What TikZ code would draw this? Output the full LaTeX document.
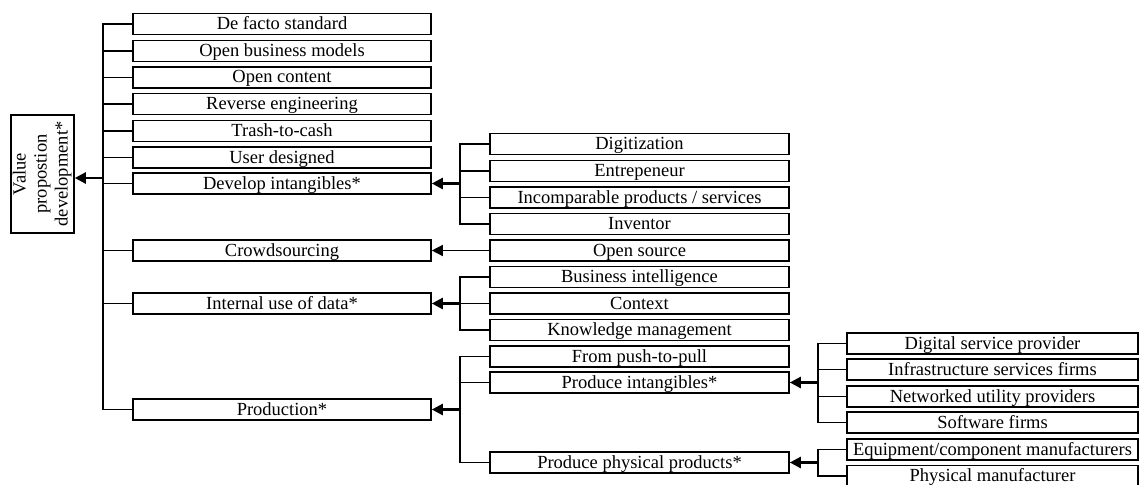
\documentclass[tikz,border=0pt]{standalone}
\usepackage{fontspec}
\usepackage{graphicx}
\setmainfont{Liberation Serif}
\usetikzlibrary{arrows.meta}
\tikzset{
  box/.style={draw, line width=1.6pt, inner sep=0pt, text height=15pt, text depth=4pt,
    minimum height=21pt, font=\fontsize{18.5}{21}\selectfont},
  lone/.style={box, minimum width=298pt},
  ltwo/.style={box, minimum width=299pt},
  lthree/.style={box, minimum width=291pt},
  conn/.style={line width=1.4pt, line cap=rect},
  arr/.style={line width=2.4pt, -{Triangle[length=11pt,width=11pt]}},
}
\begin{document}
\begin{tikzpicture}[x=1pt,y=-1pt]
\useasboundingbox (0,0) rectangle (1139,484);

% root
\node[draw, line width=1.6pt, inner sep=0pt, minimum width=63pt, minimum height=118pt,
  font=\fontsize{18.5}{21}\selectfont] (vp) at (42.5,174)
  {\rotatebox{90}{\begin{tabular}{@{}c@{}}Value\\propostion\\development*\end{tabular}}};

% first level
\node[lone] (dfs) at (282,24) {De facto standard};
\node[lone] (obm) at (282,51) {Open business models};
\node[lone] (ocn) at (282,77.5) {Open content};
\node[lone] (rev) at (282,104) {Reverse engineering};
\node[lone] (ttc) at (282,131) {Trash-to-cash};
\node[lone] (usd) at (282,157.5) {User designed};
\node[lone] (dvi) at (282,183.5) {Develop intangibles*};
\node[lone] (crs) at (282,250.5) {Crowdsourcing};
\node[lone] (iud) at (282,303.5) {Internal use of data*};
\node[lone] (prd) at (282,409.5) {Production*};

% second level
\node[ltwo] (dig) at (639.5,144) {Digitization};
\node[ltwo] (ent) at (639.5,171) {Entrepeneur};
\node[ltwo] (inc) at (639.5,197.5) {Incomparable products / services};
\node[ltwo] (inv) at (639.5,224) {Inventor};
\node[ltwo] (osr) at (639.5,250.5) {Open source};
\node[ltwo] (bin) at (639.5,277) {Business intelligence};
\node[ltwo] (ctx) at (639.5,303.5) {Context};
\node[ltwo] (kmg) at (639.5,330) {Knowledge management};
\node[ltwo] (ptp) at (639.5,356.5) {From push-to-pull};
\node[ltwo] (pin) at (639.5,382.5) {Produce intangibles*};
\node[ltwo] (ppp) at (639.5,462.5) {Produce physical products*};

% third level
\node[lthree] (dsp) at (992.5,343.5) {Digital service provider};
\node[lthree] (isf) at (992.5,369.5) {Infrastructure services firms};
\node[lthree] (nup) at (992.5,396.5) {Networked utility providers};
\node[lthree] (swf) at (992.5,422.5) {Software firms};
\node[lthree] (ecm) at (992.5,449.5) {Equipment/component manufacturers};
\node[lthree] (phm) at (992.5,476) {Physical manufacturer};

% bus lines
\coordinate (busA) at (103,0);
\coordinate (busB) at (460,0);
\coordinate (busC) at (818,0);

% trunk into the root
\draw[conn] (dfs.west -| busA) -- (prd.west -| busA);
\foreach \n in {dfs,obm,ocn,rev,ttc,usd,dvi,crs,iud,prd}
  \draw[conn] (\n.west) -- (\n.west -| busA);
\coordinate (vpin) at (103,178);
\draw[arr] (vpin) -- (vp.east |- vpin);

% develop intangibles
\draw[conn] (dig.west -| busB) -- (inv.west -| busB);
\foreach \n in {dig,ent,inc,inv}
  \draw[conn] (\n.west) -- (\n.west -| busB);
\draw[arr] (dvi.east -| busB) -- (dvi.east);

% crowdsourcing
\draw[arr, line width=1.4pt] (osr.west) -- (crs.east);

% internal use of data
\draw[conn] (bin.west -| busB) -- (kmg.west -| busB);
\foreach \n in {bin,ctx,kmg}
  \draw[conn] (\n.west) -- (\n.west -| busB);
\draw[arr] (iud.east -| busB) -- (iud.east);

% production
\draw[conn] (ptp.west -| busB) -- (ppp.west -| busB);
\foreach \n in {ptp,pin,ppp}
  \draw[conn] (\n.west) -- (\n.west -| busB);
\draw[arr] (prd.east -| busB) -- (prd.east);

% produce intangibles
\draw[conn] (dsp.west -| busC) -- (swf.west -| busC);
\foreach \n in {dsp,isf,nup,swf}
  \draw[conn] (\n.west) -- (\n.west -| busC);
\draw[arr] (pin.east -| busC) -- (pin.east);

% produce physical products
\draw[conn] (ecm.west -| busC) -- (phm.west -| busC);
\foreach \n in {ecm,phm}
  \draw[conn] (\n.west) -- (\n.west -| busC);
\draw[arr] (ppp.east -| busC) -- (ppp.east);
\end{tikzpicture}
\end{document}
